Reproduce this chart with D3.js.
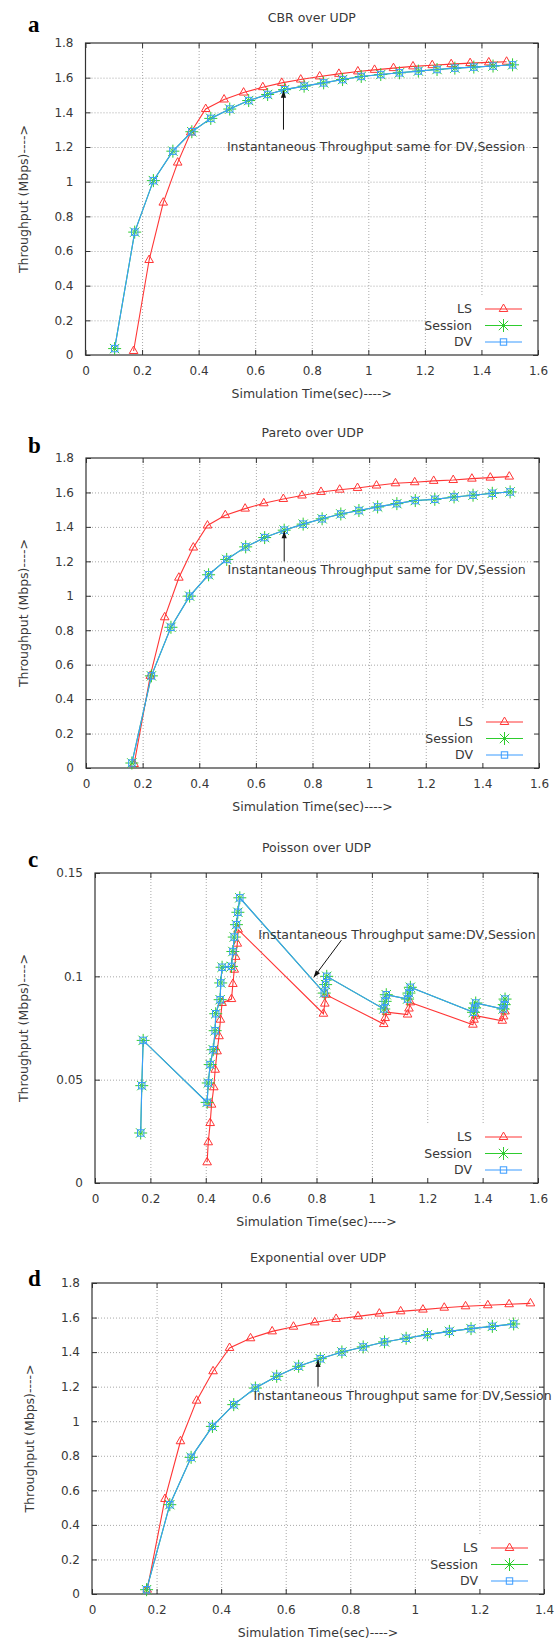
<!DOCTYPE html>
<html>
<head>
<meta charset="utf-8">
<script src="https://cdn.jsdelivr.net/npm/d3@7"></script>
<style>
body { margin: 0; background: #fff; }
text { font-family: "DejaVu Sans", sans-serif; fill: #383838; }
text.letter { font-family: "Liberation Serif", "DejaVu Serif", serif; font-weight: bold; fill: #000; }
</style>
</head>
<body>
<svg id="fig" width="558" height="1646"></svg>
<script>

// ---- data (time in sec, throughput in Mbps) ----
// Session and DV give the same values in every panel

var cbrLsTime = [0.170,0.225,0.275,0.326,0.372,0.425,0.490,0.559,0.627,0.694,0.761,0.828,0.896,0.963,1.022,1.089,1.158,1.226,1.293,1.360,1.426,1.489];
var cbrLs     = [0.023,0.548,0.879,1.110,1.284,1.419,1.474,1.514,1.545,1.570,1.589,1.607,1.622,1.636,1.645,1.655,1.665,1.672,1.678,1.684,1.688,1.692];
var cbrSessTime = [0.103,0.174,0.240,0.309,0.376,0.443,0.510,0.577,0.644,0.704,0.773,0.842,0.909,0.975,1.044,1.110,1.177,1.243,1.306,1.373,1.441,1.510];
var cbrSess     = [0.037,0.709,1.006,1.176,1.288,1.365,1.419,1.468,1.503,1.531,1.551,1.570,1.589,1.607,1.618,1.628,1.638,1.647,1.655,1.661,1.667,1.674];

var parLsTime = [0.170,0.227,0.278,0.328,0.379,0.429,0.492,0.562,0.628,0.697,0.763,0.830,0.896,0.959,1.026,1.093,1.161,1.228,1.297,1.363,1.428,1.495];
var parLs     = [0.023,0.535,0.875,1.105,1.280,1.408,1.468,1.506,1.537,1.562,1.582,1.603,1.616,1.626,1.640,1.653,1.659,1.667,1.672,1.680,1.686,1.692];
var parSessTime = [0.162,0.231,0.300,0.366,0.433,0.497,0.564,0.631,0.700,0.767,0.834,0.900,0.964,1.030,1.098,1.163,1.232,1.300,1.367,1.435,1.498];
var parSess     = [0.029,0.535,0.817,0.998,1.122,1.211,1.284,1.338,1.381,1.416,1.447,1.475,1.495,1.516,1.535,1.553,1.560,1.574,1.584,1.595,1.603];

var poiLsTime = [0.405,0.409,0.416,0.421,0.429,0.434,0.441,0.448,0.453,0.459,0.493,0.498,0.503,0.508,0.514,0.517,0.825,0.830,0.835,1.043,1.048,1.053,1.129,1.134,1.139,1.365,1.369,1.375,1.471,1.476,1.481];
var poiLs     = [0.010,0.0197,0.029,0.0379,0.0463,0.0548,0.0637,0.071,0.079,0.0871,0.089,0.0963,0.1032,0.1094,0.1158,0.1226,0.0819,0.0868,0.0911,0.0769,0.0798,0.0827,0.0815,0.0844,0.0874,0.0766,0.079,0.081,0.0785,0.0806,0.083];
var poiSessTime = [0.165,0.169,0.174,0.405,0.409,0.416,0.427,0.434,0.436,0.452,0.454,0.459,0.493,0.498,0.503,0.511,0.516,0.523,0.828,0.833,0.837,1.043,1.048,1.052,1.129,1.134,1.139,1.367,1.371,1.375,1.474,1.478,1.481];
var poiSess     = [0.0242,0.0471,0.069,0.039,0.0484,0.0573,0.0645,0.0737,0.0819,0.0887,0.0968,0.1044,0.1048,0.112,0.119,0.125,0.131,0.138,0.0919,0.096,0.100,0.0842,0.0879,0.0911,0.089,0.0919,0.0947,0.0826,0.0847,0.0871,0.0842,0.0863,0.089];

var expLsTime = [0.171,0.226,0.274,0.324,0.375,0.426,0.491,0.558,0.624,0.690,0.756,0.824,0.890,0.956,1.025,1.091,1.157,1.226,1.292,1.358];
var expLs     = [0.025,0.550,0.884,1.119,1.289,1.424,1.480,1.520,1.547,1.572,1.592,1.607,1.623,1.636,1.646,1.657,1.665,1.671,1.677,1.682];
var expSessTime = [0.169,0.241,0.307,0.373,0.439,0.506,0.572,0.640,0.707,0.774,0.840,0.906,0.973,1.039,1.107,1.174,1.240,1.306];
var expSess     = [0.025,0.517,0.791,0.970,1.096,1.192,1.260,1.318,1.362,1.401,1.430,1.459,1.480,1.501,1.520,1.536,1.549,1.563];

// tick values
var xTicks16 = [0,0.2,0.4,0.6,0.8,1,1.2,1.4,1.6];
var xTicks14 = [0,0.2,0.4,0.6,0.8,1,1.2,1.4];
var yTicks18 = [0,0.2,0.4,0.6,0.8,1,1.2,1.4,1.6,1.8];
var yTicksPoi = [0,0.05,0.1,0.15];

var seriesNames = ["LS", "Session", "DV"];
var noteText = "Instantaneous Throughput same for DV,Session";
var noteTextPoi = "Instantaneous Throughput same:DV,Session";

// ---- layout ----
var colors = { LS: "#ff3535", Session: "#2ecc2e", DV: "#3a9cff" };

var panels = [
  { letter: "a", letterY: 32, title: "CBR over UDP", box: [85.5, 538, 43, 355], ylabX: 24,
    xTicks: xTicks16, yTicks: yTicks18,
    ls: [cbrLsTime, cbrLs], sess: [cbrSessTime, cbrSess],
    note: noteText, noteAt: [0.5, 1.2], arrow: [0.7, 1.3, 0.7, 1.525] },
  { letter: "b", letterY: 453, title: "Pareto over UDP", box: [86, 539, 458, 768], ylabX: 24,
    xTicks: xTicks16, yTicks: yTicks18,
    ls: [parLsTime, parLs], sess: [parSessTime, parSess],
    note: noteText, noteAt: [0.5, 1.15], arrow: [0.7, 1.2, 0.7, 1.375] },
  { letter: "c", letterY: 867, title: "Poisson over UDP", box: [95, 538, 873, 1183], ylabX: 24,
    xTicks: xTicks16, yTicks: yTicksPoi,
    ls: [poiLsTime, poiLs], sess: [poiSessTime, poiSess],
    note: noteTextPoi, noteAt: [0.59, 0.12], arrow: [0.89, 0.1175, 0.79, 0.0995] },
  { letter: "d", letterY: 1286, title: "Exponential over UDP", box: [92, 544, 1283, 1594], ylabX: 30,
    xTicks: xTicks14, yTicks: yTicks18,
    ls: [expLsTime, expLs], sess: [expSessTime, expSess],
    note: noteText, noteAt: [0.5, 1.15], arrow: [0.7, 1.2, 0.7, 1.355] }
];

var svg = d3.select("#fig");
svg.append("rect").attr("width", 558).attr("height", 1646).attr("fill", "#fff");

var starPath = function(r) {
  var d = r * 0.72;
  return "M" + (-r) + ",0H" + r + "M0," + (-r) + "V" + r +
         "M" + (-d) + "," + (-d) + "L" + d + "," + d +
         "M" + (-d) + "," + d + "L" + d + "," + (-d);
};
var triPath = d3.symbol().type(d3.symbolTriangle).size(32)();

function drawMarker(sel, name) {
  if (name == "LS") {
    sel.append("path").attr("d", triPath)
      .attr("fill", "none").attr("stroke", colors.LS).attr("stroke-width", 1);
  } else if (name == "Session") {
    sel.append("path").attr("d", starPath(6.5))
      .attr("fill", "none").attr("stroke", colors.Session).attr("stroke-width", 1);
  } else {
    sel.append("rect").attr("x", -3.2).attr("y", -3.2).attr("width", 6.4).attr("height", 6.4)
      .attr("fill", "none").attr("stroke", colors.DV).attr("stroke-width", 1);
  }
}

panels.forEach(function(p) {
  var L = p.box[0], R = p.box[1], T = p.box[2], B = p.box[3];
  var W = R - L, H = B - T;
  var xMax = p.xTicks[p.xTicks.length - 1], yMax = p.yTicks[p.yTicks.length - 1];
  var x = d3.scaleLinear().domain([0, xMax]).range([L, R]);
  var y = d3.scaleLinear().domain([0, yMax]).range([B, T]);

  var g = svg.append("g");

  // grid
  var gx = g.append("g").attr("transform", "translate(0," + B + ")")
    .call(d3.axisBottom(x).tickValues(p.xTicks.slice(1, -1)).tickSize(-H).tickFormat(""));
  var gy = g.append("g").attr("transform", "translate(" + L + ",0)")
    .call(d3.axisLeft(y).tickValues(p.yTicks.slice(1, -1)).tickSize(-W).tickFormat(""));
  [gx, gy].forEach(function(a) {
    a.select(".domain").remove();
    a.selectAll("line").attr("stroke", "#a8a8a8").attr("stroke-width", 1).attr("stroke-dasharray", "1,2");
  });

  // legend background (covers the grid)
  g.append("rect").attr("x", R - 112).attr("y", B - 58).attr("width", 111).attr("height", 56)
    .attr("fill", "#fff");

  // axes: ticks pointing inward on all four sides
  var ax = [
    g.append("g").attr("transform", "translate(0," + B + ")")
      .call(d3.axisBottom(x).tickValues(p.xTicks).tickSizeInner(-5).tickSizeOuter(0).tickPadding(11).tickFormat(String)),
    g.append("g").attr("transform", "translate(" + L + ",0)")
      .call(d3.axisLeft(y).tickValues(p.yTicks).tickSizeInner(-5).tickSizeOuter(0).tickPadding(12).tickFormat(String)),
    g.append("g").attr("transform", "translate(0," + T + ")")
      .call(d3.axisTop(x).tickValues(p.xTicks).tickSizeInner(-5).tickSizeOuter(0).tickFormat("")),
    g.append("g").attr("transform", "translate(" + R + ",0)")
      .call(d3.axisRight(y).tickValues(p.yTicks).tickSizeInner(-5).tickSizeOuter(0).tickFormat(""))
  ];
  ax.forEach(function(a) {
    a.select(".domain").remove();
    a.selectAll("line").attr("stroke", "#333").attr("stroke-width", 1);
    a.selectAll("text").attr("font-size", 12);
  });

  g.append("rect").attr("x", L).attr("y", T).attr("width", W).attr("height", H)
    .attr("fill", "none").attr("stroke", "#333").attr("stroke-width", 1.2);

  // series
  var line = d3.line().x(function(d) { return x(d[0]); }).y(function(d) { return y(d[1]); });
  var sets = {
    LS: d3.zip(p.ls[0], p.ls[1]),
    Session: d3.zip(p.sess[0], p.sess[1]),
    DV: d3.zip(p.sess[0], p.sess[1])
  };
  seriesNames.forEach(function(name) {
    g.append("path").datum(sets[name]).attr("d", line)
      .attr("fill", "none").attr("stroke", colors[name]).attr("stroke-width", 1.1);
    var m = g.append("g").selectAll("g").data(sets[name]).enter().append("g")
      .attr("transform", function(d) { return "translate(" + x(d[0]) + "," + y(d[1]) + ")"; });
    drawMarker(m, name);
  });

  // legend
  seriesNames.forEach(function(name, i) {
    var ly = B - 46 + i * 16.5;
    g.append("text").attr("x", R - 66).attr("y", ly).attr("dy", "0.35em")
      .attr("text-anchor", "end").attr("font-size", 12.5).text(name);
    g.append("line").attr("x1", R - 53).attr("x2", R - 16).attr("y1", ly).attr("y2", ly)
      .attr("stroke", colors[name]).attr("stroke-width", 1.1);
    var m = g.append("g").attr("transform", "translate(" + (R - 34.5) + "," + ly + ")");
    drawMarker(m, name);
  });

  // annotation
  g.append("text").attr("x", x(p.noteAt[0])).attr("y", y(p.noteAt[1])).attr("dy", "0.35em")
    .attr("font-size", 12.5).text(p.note);
  var x1 = x(p.arrow[0]), y1 = y(p.arrow[1]), x2 = x(p.arrow[2]), y2 = y(p.arrow[3]);
  var ang = Math.atan2(y2 - y1, x2 - x1), hl = 7, hw = 2.6;
  g.append("line").attr("x1", x1).attr("y1", y1).attr("x2", x2).attr("y2", y2)
    .attr("stroke", "#111").attr("stroke-width", 1);
  var bx = x2 - hl * Math.cos(ang), by = y2 - hl * Math.sin(ang);
  g.append("path")
    .attr("d", "M" + x2 + "," + y2 +
      "L" + (bx + hw * Math.sin(ang)) + "," + (by - hw * Math.cos(ang)) +
      "L" + (bx - hw * Math.sin(ang)) + "," + (by + hw * Math.cos(ang)) + "Z")
    .attr("fill", "#111");

  // titles and labels
  g.append("text").attr("x", (L + R) / 2).attr("y", T - 21).attr("text-anchor", "middle")
    .attr("font-size", 12.5).text(p.title);
  g.append("text").attr("x", (L + R) / 2).attr("y", B + 43).attr("text-anchor", "middle")
    .attr("font-size", 12.5).text("Simulation Time(sec)---->");
  g.append("text").attr("transform", "translate(" + p.ylabX + "," + ((T + B) / 2) + ") rotate(-90)")
    .attr("dy", "0.35em").attr("text-anchor", "middle").attr("font-size", 12.5)
    .text("Throughput (Mbps)---->");
  g.append("text").attr("class", "letter").attr("x", 28).attr("y", p.letterY)
    .attr("font-size", 23).text(p.letter);
});
</script>
</body>
</html>
